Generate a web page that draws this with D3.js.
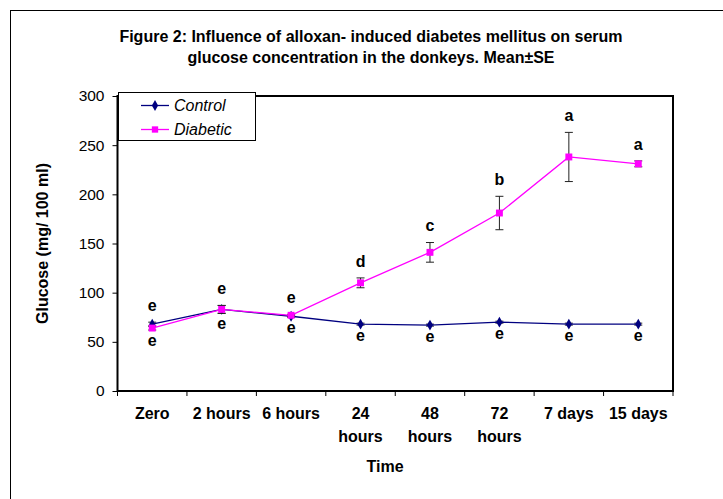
<!DOCTYPE html>
<html>
<head>
<meta charset="utf-8">
<script src="https://cdn.jsdelivr.net/npm/d3@7"></script>
<style>
  body { margin: 0; background: #fff; }
  text { font-family: "Liberation Sans", Arial, sans-serif; }
</style>
</head>
<body>
<script>
// chart data
const categories = ["Zero", "2 hours", "6 hours", "24 hours", "48 hours", "72 hours", "7 days", "15 days"];
const controlMean = [68, 83, 76, 68, 67, 70, 68, 68];
const controlSE = [2, 4, 1, 1, 1, 1, 1, 1];
const diabeticMean = [64, 83, 77, 110, 141, 181, 238, 231];
const diabeticSE = [2, 4, 1, 5, 10, 17, 25, 3];
const diabeticLetters = ["e", "e", "e", "d", "c", "b", "a", "a"];
const controlLetters = ["e", "e", "e", "e", "e", "e", "e", "e"];
const yTicks = [0, 50, 100, 150, 200, 250, 300];

// variables for easy access
var svg_width = 723;
var svg_height = 499;
var margin = { left: 117.5, right: 50, top: 96, bottom: 108 };

const svg = d3.select('body')
    .append('svg')
    .attr("width", `${svg_width}px`)
    .attr("height", `${svg_height}px`);

// outer frame (runs off the right and bottom edge)
svg.append('rect')
    .attr('x', 10.5).attr('y', 10.5)
    .attr('width', 730).attr('height', 500)
    .attr('fill', 'none').attr('stroke', '#000').attr('stroke-width', 1);

// title
const title = svg.append('text')
    .attr('text-anchor', 'middle')
    .attr('font-size', '16px')
    .attr('font-weight', 'bold');
title.append('tspan').attr('x', 371).attr('y', 42)
    .text("Figure 2: Influence of alloxan- induced diabetes mellitus on serum");
title.append('tspan').attr('x', 371).attr('y', 63)
    .text("glucose concentration in the donkeys. Mean\u00b1SE");

const x = d3.scaleBand()
    .domain(categories)
    .range([margin.left, svg_width - margin.right]);

const y = d3.scaleLinear()
    .domain([0, 300])
    .range([svg_height - margin.bottom, margin.top]);

const cx = d => x(d) + x.bandwidth() / 2;

// plot area border
svg.append('rect')
    .attr('x', x.range()[0]).attr('y', y(300))
    .attr('width', x.range()[1] - x.range()[0])
    .attr('height', y(0) - y(300))
    .attr('fill', 'none').attr('stroke', '#000').attr('stroke-width', 2);

// y axis
const yAxis = svg.append('g')
    .attr('transform', `translate(${x.range()[0]},0)`)
    .call(d3.axisLeft(y).tickValues(yTicks).tickSize(5).tickPadding(8));
yAxis.select('.domain').remove();
yAxis.selectAll('text').attr('font-size', '15.5px').attr('fill', '#000')
    .style('font-family', '"Liberation Sans", Arial, sans-serif');

// x axis, ticks at band edges
const xAxis = svg.append('g')
    .attr('transform', `translate(0,${y(0)})`);
const edges = categories.map(c => x(c)).concat([x.range()[1]]);
xAxis.selectAll('line').data(edges).enter().append('line')
    .attr('x1', d => d).attr('x2', d => d)
    .attr('y1', 0).attr('y2', 5)
    .attr('stroke', '#000');

// x tick labels, long ones wrapped on two lines
categories.forEach(c => {
    const parts = c.startsWith("24") || c.startsWith("48") || c.startsWith("72")
        ? c.split(" ") : [c];
    const t = xAxis.append('text')
        .attr('text-anchor', 'middle')
        .attr('font-size', '16px')
        .attr('font-weight', 'bold');
    parts.forEach((p, i) => {
        t.append('tspan').attr('x', cx(c)).attr('y', 28 + i * 23).text(p);
    });
});

// axis titles
svg.append('text')
    .attr('x', 385).attr('y', 472)
    .attr('text-anchor', 'middle')
    .attr('font-size', '16px').attr('font-weight', 'bold')
    .text("Time");

svg.append('text')
    .attr('transform', `translate(48,${(y(0) + y(300)) / 2}) rotate(-90)`)
    .attr('text-anchor', 'middle')
    .attr('font-size', '16px').attr('font-weight', 'bold')
    .text("Glucose (mg/ 100 ml)");

const plot_g = svg.append('g');

// draws one series: error bars, line, markers
function drawSeries(mean, se, colour, shape, size) {
    const rows = categories.map((c, i) => ({ c: c, m: mean[i], s: se[i] }));

    plot_g.selectAll(null).data(rows).enter().append('path')
        .attr('d', d => {
            const px = cx(d.c), top = y(d.m + d.s), bot = y(d.m - d.s);
            return `M${px - 4},${top}H${px + 4}M${px},${top}V${bot}M${px - 4},${bot}H${px + 4}`;
        })
        .attr('stroke', '#222').attr('stroke-width', 1).attr('fill', 'none');

    plot_g.append('path')
        .datum(rows)
        .attr('d', d3.line().x(d => cx(d.c)).y(d => y(d.m)))
        .attr('fill', 'none').attr('stroke', colour).attr('stroke-width', 1.3);

    plot_g.selectAll(null).data(rows).enter().append('path')
        .attr('transform', d => `translate(${cx(d.c)},${y(d.m)})`)
        .attr('d', d3.symbol().type(shape).size(size))
        .attr('fill', colour);
}

drawSeries(controlMean, controlSE, "#000080", d3.symbolDiamond, 34);
drawSeries(diabeticMean, diabeticSE, "#FF00FF", d3.symbolSquare, 48);

// significance letters above the highest and below the lowest bar
categories.forEach((c, i) => {
    const top = Math.max(controlMean[i] + controlSE[i], diabeticMean[i] + diabeticSE[i]);
    const bot = Math.min(controlMean[i] - controlSE[i], diabeticMean[i] - diabeticSE[i]);
    plot_g.append('text')
        .attr('x', cx(c)).attr('y', y(top) - 17).attr('dy', '0.35em')
        .attr('text-anchor', 'middle')
        .attr('font-size', '16px').attr('font-weight', 'bold')
        .text(diabeticLetters[i]);
    plot_g.append('text')
        .attr('x', cx(c)).attr('y', y(bot) + 10).attr('dy', '0.35em')
        .attr('text-anchor', 'middle')
        .attr('font-size', '16px').attr('font-weight', 'bold')
        .text(controlLetters[i]);
});

// legend
const legend = svg.append('g');
legend.append('rect')
    .attr('x', 118.5).attr('y', 92.5)
    .attr('width', 137).attr('height', 48)
    .attr('fill', '#fff').attr('stroke', '#000').attr('stroke-width', 1);

const legendItems = [
    { name: "Control", colour: "#000080", shape: d3.symbolDiamond, size: 34, ly: 105.5 },
    { name: "Diabetic", colour: "#FF00FF", shape: d3.symbolSquare, size: 40, ly: 129.5 }
];
legendItems.forEach(d => {
    legend.append('line')
        .attr('x1', 141).attr('x2', 169)
        .attr('y1', d.ly).attr('y2', d.ly)
        .attr('stroke', d.colour).attr('stroke-width', 1.3);
    legend.append('path')
        .attr('transform', `translate(155,${d.ly})`)
        .attr('d', d3.symbol().type(d.shape).size(d.size))
        .attr('fill', d.colour);
    legend.append('text')
        .attr('x', 174).attr('y', d.ly).attr('dy', '0.35em')
        .attr('font-size', '16px').attr('font-style', 'italic')
        .text(d.name);
});
</script>
</body>
</html>
